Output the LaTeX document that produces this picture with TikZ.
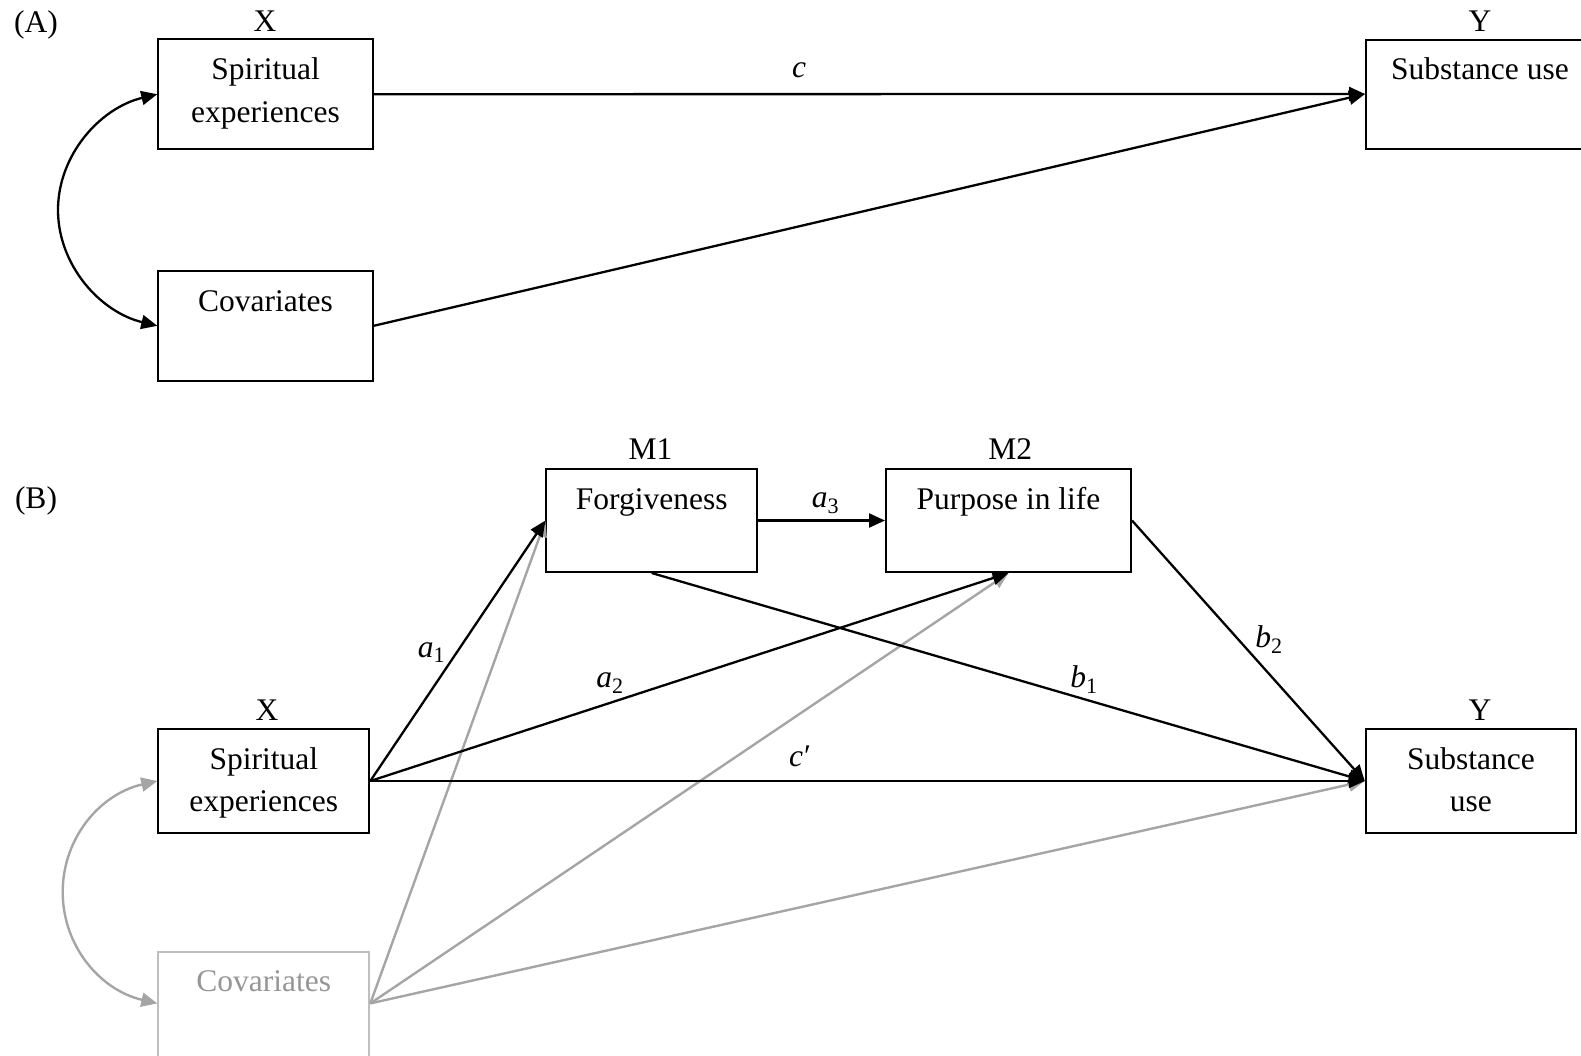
\documentclass[tikz,border=0pt]{standalone}
\usepackage{fontspec}
\setmainfont{Liberation Serif}
\usetikzlibrary{arrows.meta}
\definecolor{linegray}{RGB}{165,165,165}
\definecolor{boxgray}{RGB}{190,190,190}
\definecolor{textgray}{RGB}{150,150,150}
\newcommand\diagfont{\fontsize{31.5pt}{40pt}\selectfont}
\begin{document}
\begin{tikzpicture}[x=1pt,y=-1pt,
  every node/.style={font=\diagfont},
  box/.style={draw,line width=2pt,inner sep=0pt},
  lbl/.style={anchor=base,inner sep=0pt},
  arr/.style={line width=2.3pt,-{Triangle[length=16pt,width=14pt]}},
  twoway/.style={line width=2.3pt,{Triangle[length=16pt,width=14pt]}-{Triangle[length=16pt,width=14pt]}},
  garr/.style={arr,line width=2.4pt,color=linegray},
  gtwoway/.style={twoway,line width=2.4pt,color=linegray}]
\useasboundingbox (0,0) rectangle (1581,1055);

% ---------------- panel A ----------------
\node[lbl] (tagA) at (36,32) {(A)};
\node[box,minimum width=214.4pt,minimum height=109.7pt] (aX) at (265.5,94.2) {};
\node[box,minimum width=214.4pt,minimum height=110.3pt] (aC) at (265.5,325.8) {};
\node[box,minimum width=228pt,minimum height=109pt] (aY) at (1480,94) {};
\node[lbl] (aXname) at (265,31.7) {X};
\node[lbl] (aYname) at (1480,31.7) {Y};
\node[lbl] (aXt1) at (265.5,79.3) {Spiritual};
\node[lbl] (aXt2) at (265.5,122.3) {experiences};
\node[lbl] (aCt) at (265.5,311.7) {Covariates};
\node[lbl] (aYt) at (1480,79.3) {Substance use};

\draw[arr] (aX.east) -- (aY.west);
\draw[arr] (aC.east) -- (aY.west);
\coordinate (aBend) at (58,210);
\draw[twoway] (aX.west) .. controls (100,108) and (58,155) .. (aBend)
  .. controls (58,265) and (100,312) .. (aC.west);
\node[lbl] (lc) at (799,77.7) {\textit{c}};

% ---------------- panel B ----------------
\node[lbl] (tagB) at (36,508) {(B)};
\node[box,minimum width=210.5pt,minimum height=103pt] (bM1) at (651.7,520.5) {};
\node[box,minimum width=245pt,minimum height=103pt] (bM2) at (1008.5,520.5) {};
\node[box,minimum width=211pt,minimum height=103.4pt] (bX) at (263.8,781) {};
% the covariates box runs past the lower edge of the page
\node[box,draw=boxgray,minimum width=211pt,minimum height=108pt] (bC) at (263.8,1005.7) {};
\node[box,minimum width=210.3pt,minimum height=103.4pt] (bY) at (1470.9,781) {};

\node[lbl] (bM1name) at (650.4,459) {M1};
\node[lbl] (bM2name) at (1010.3,459) {M2};
\node[lbl] (bXname) at (267,720) {X};
\node[lbl] (bYname) at (1480,720) {Y};

\node[lbl] (bM1t) at (651.7,509) {Forgiveness};
\node[lbl] (bM2t) at (1008.5,509) {Purpose in life};
\node[lbl] (bXt1) at (263.8,769.3) {Spiritual};
\node[lbl] (bXt2) at (263.8,811) {experiences};
\node[lbl,text=textgray] (bCt) at (263.8,991.7) {Covariates};
\node[lbl] (bYt1) at (1470.9,769.3) {Substance};
\node[lbl] (bYt2) at (1470.9,811) {use};

% covariate paths, drawn underneath
\draw[garr] ([yshift=2.3pt]bC.east) -- (bM1.west);
\draw[garr] ([yshift=2.3pt]bC.east) -- (bM2.south);
\draw[garr] ([yshift=2.3pt]bC.east) -- (bY.west);
\coordinate (bBend) at (62.7,892);
\draw[gtwoway] (bX.west) .. controls (100,794) and (62.7,838) .. (bBend)
  .. controls (62.7,946) and (100,990) .. ([yshift=2.3pt]bC.west);

% structural paths
\draw[arr] (bX.east) -- (bM1.west);
\draw[arr] (bX.east) -- (bM2.south);
\draw[arr] (bX.east) -- (bY.west);
\draw[arr] (bM1.east) -- (bM2.west);
\draw[arr] (bM1.south) -- (bY.west);
\draw[arr] (bM2.east) -- (bY.west);

\node[lbl] (la1) at (431.5,657) {\textit{a}\textsubscript{1}};
\node[lbl] (la2) at (610,687) {\textit{a}\textsubscript{2}};
\node[lbl] (la3) at (825.5,507.3) {\textit{a}\textsubscript{3}};
\node[lbl] (lb1) at (1084,687.3) {\textit{b}\textsubscript{1}};
\node[lbl] (lb2) at (1269,647.3) {\textit{b}\textsubscript{2}};
\node[lbl] (lcp) at (800,766.7) {\textit{c}\kern1pt′};
\end{tikzpicture}
\end{document}
